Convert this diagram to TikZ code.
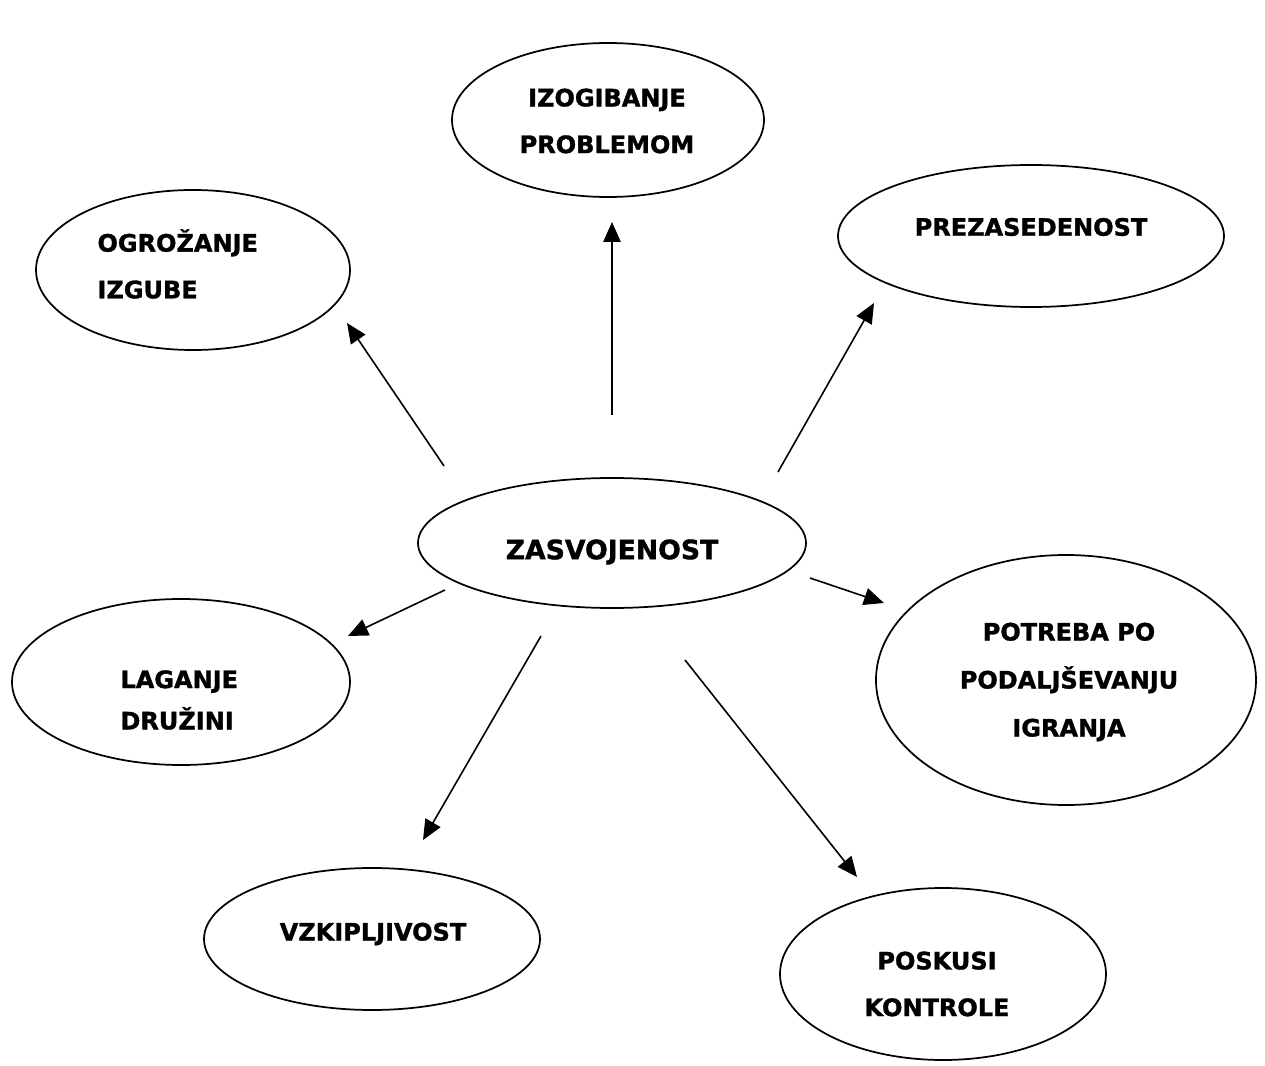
\documentclass[tikz,border=0pt]{standalone}
\usepackage{fontspec}
\setmainfont{DejaVu Sans}[BoldFeatures={FakeBold=1.3}]
\usetikzlibrary{shapes.geometric,arrows.meta}
\tikzset{every picture/.style={line width=0.75pt}}
\tikzset{
  bubble/.style={draw, ellipse, line width=1.3pt, inner sep=0pt},
  lbl/.style={inner sep=0pt, align=center, font=\fontsize{18}{35}\selectfont\bfseries},
  arr/.style={line width=1.2pt, -{Triangle[length=15pt,width=13pt]}}
}

\begin{document}
\begin{tikzpicture}[x=0.75pt,y=0.75pt,yscale=-1,xscale=1]
		\useasboundingbox (0,0) rectangle (1265,1066);
		
		%Shape: Ellipse [center]
		\node [bubble, minimum width=291pt, minimum height=97.5pt] (zas) at (612,543) {};
		%Shape: Ellipse
		\node [bubble, minimum width=234pt, minimum height=115.5pt] (izo) at (608,120) {};
		%Shape: Ellipse
		\node [bubble, minimum width=235.5pt, minimum height=120pt] (ogr) at (193,270) {};
		%Shape: Ellipse
		\node [bubble, minimum width=289.5pt, minimum height=106.5pt] (pre) at (1031,236) {};
		%Shape: Ellipse
		\node [bubble, minimum width=285pt, minimum height=187.5pt] (pot) at (1066,680) {};
		%Shape: Ellipse
		\node [bubble, minimum width=253.5pt, minimum height=124.5pt] (lag) at (181,682) {};
		%Shape: Ellipse
		\node [bubble, minimum width=252pt, minimum height=106.5pt] (vzk) at (372,939) {};
		%Shape: Ellipse
		\node [bubble, minimum width=244.5pt, minimum height=129pt] (pos) at (943,974) {};
		
		% Text Node
		\node [lbl, font=\fontsize{20}{35}\selectfont\bfseries] (zas-t) at (612,552) {ZASVOJENOST};
		% Text Node
		\node [lbl] (izo-t) at (607,121) {IZOGIBANJE\\PROBLEMOM};
		% Text Node
		\node [lbl, align=left, anchor=west] (ogr-t) at (97,264) {OGROŽANJE\\IZGUBE};
		% Text Node
		\node [lbl] (pre-t) at (1031,227) {PREZASEDENOST};
		% Text Node
		\node [lbl, font=\fontsize{18}{36}\selectfont\bfseries] (pot-t) at (1069,682) {POTREBA PO\\PODALJŠEVANJU\\IGRANJA};
		% Text Node
		\node [lbl, align=left, anchor=west, font=\fontsize{18}{31}\selectfont\bfseries] (lag-t) at (120,700) {LAGANJE\\DRUŽINI};
		% Text Node
		\node [lbl] (vzk-t) at (373,934) {VZKIPLJIVOST};
		% Text Node
		\node [lbl] (pos-t) at (937,984) {POSKUSI\\KONTROLE};
		
		% arrow ends
		\coordinate (zas-ogr) at (444,466);
		\coordinate (ogr-in) at (347,323);
		\coordinate (zas-izo) at (612,415);
		\coordinate (izo-in) at (612,222);
		\coordinate (zas-pre) at (778,472);
		\coordinate (pre-in) at (874,303);
		\coordinate (zas-pot) at (810,578);
		\coordinate (pot-in) at (884,603);
		\coordinate (zas-lag) at (445,590);
		\coordinate (lag-in) at (348,636);
		\coordinate (zas-vzk) at (541,636);
		\coordinate (vzk-in) at (423,840);
		\coordinate (zas-pos) at (685,660);
		\coordinate (pos-in) at (857,877);
		
		%Arrows
		\draw [arr] (zas-ogr) -- (ogr-in);
		\draw [arr] (zas-izo) -- (izo-in);
		\draw [arr] (zas-pre) -- (pre-in);
		\draw [arr] (zas-pot) -- (pot-in);
		\draw [arr] (zas-lag) -- (lag-in);
		\draw [arr] (zas-vzk) -- (vzk-in);
		\draw [arr] (zas-pos) -- (pos-in);
		
\end{tikzpicture}
\end{document}
